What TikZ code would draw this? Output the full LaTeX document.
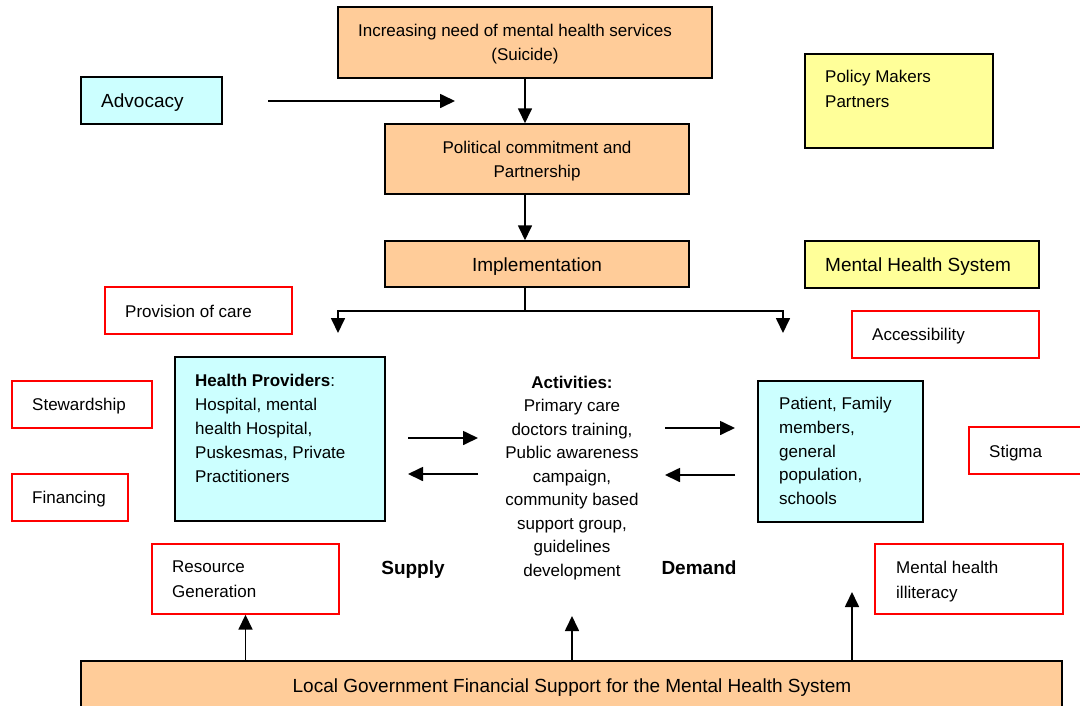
\documentclass[tikz,border=0pt]{standalone}
\usepackage{fontspec}
\setmainfont{Liberation Sans}
\usetikzlibrary{arrows.meta}
\definecolor{peach}{HTML}{FFCC99}
\definecolor{cyanbox}{HTML}{CCFFFF}
\definecolor{yellowbox}{HTML}{FFFF99}
\definecolor{redline}{HTML}{FF0000}
\tikzset{
  box/.style={draw=black, line width=1.5pt, inner sep=0pt, rectangle},
  peachbox/.style={box, fill=peach},
  cyanb/.style={box, fill=cyanbox},
  yellowb/.style={box, fill=yellowbox},
  redb/.style={draw=redline, line width=1.4pt, fill=white, inner sep=0pt, rectangle},
  txt/.style={inner sep=0pt, font=\fontsize{17}{24}\selectfont, align=left},
  bigtxt/.style={inner sep=0pt, font=\fontsize{19}{24}\selectfont},
  boldtxt/.style={inner sep=0pt, font=\fontsize{19}{24}\selectfont\bfseries},
  arr/.style={line width=1.7pt, -{Triangle[length=15pt,width=14pt]}},
  ln/.style={line width=1.7pt},
}
\begin{document}
\begin{tikzpicture}[x=1pt,y=-1pt]
\useasboundingbox (0,0) rectangle (1080,705);
% boxes
\node[peachbox, minimum width=374pt, minimum height=71pt] (need) at (525,42.5) {};
\node[peachbox, minimum width=304pt, minimum height=70pt] (political) at (537,159) {};
\node[peachbox, minimum width=304pt, minimum height=46pt] (impl) at (537,264) {};
\node[cyanb, minimum width=141pt, minimum height=47pt] (advocacy) at (151.5,100.5) {};
\node[yellowb, minimum width=188pt, minimum height=94pt] (policy) at (899,101) {};
\node[yellowb, minimum width=234pt, minimum height=47pt] (mhs) at (922,264.5) {};
\node[redb, minimum width=187pt, minimum height=47pt] (access) at (945.5,334.5) {};
\node[redb, minimum width=187pt, minimum height=47pt] (provision) at (198.5,310.5) {};
\node[redb, minimum width=140pt, minimum height=47pt] (steward) at (82,404.5) {};
\node[redb, minimum width=116pt, minimum height=47pt] (financing) at (70,497.5) {};
\node[cyanb, minimum width=210pt, minimum height=164pt] (providers) at (280,439) {};
\node[cyanb, minimum width=165pt, minimum height=141pt] (patient) at (840.5,451.5) {};
\node[redb, minimum width=126pt, minimum height=47pt] (stigma) at (1032,450.5) {};
\node[redb, minimum width=188pt, minimum height=70pt] (illit) at (969,579) {};
\node[redb, minimum width=187pt, minimum height=70pt] (resource) at (245.5,579) {};
\node[peachbox, minimum width=981pt, minimum height=59pt] (bottom) at (571.5,690.5) {};
% texts
\node[txt, align=center, anchor=north] (needt) at (515,23.9) {Increasing need of mental health services\\\hspace*{20pt}(Suicide)};
\node[txt, align=center, anchor=north] (politicalt) at (537,140.9) {Political commitment and\\Partnership};
\node[bigtxt, anchor=base] (implt) at (537,271.8) {Implementation};
\node[bigtxt, anchor=base west] (advocacyt) at (101,107.8) {Advocacy};
\node[txt, anchor=north west, font=\fontsize{17}{25}\selectfont] (policyt) at (825,69.9) {Policy Makers\\Partners};
\node[bigtxt, anchor=base west] (mhst) at (825,271.8) {Mental Health System};
\node[txt, anchor=base west] (accesst) at (872,340.1) {Accessibility};
\node[txt, anchor=base west] (provisiont) at (125,317.1) {Provision of care};
\node[txt, anchor=base west] (stewardt) at (32,410.1) {Stewardship};
\node[txt, anchor=base west] (financingt) at (32,503.1) {Financing};
\node[txt, anchor=north west] (providerst) at (195,373.9) {\textbf{Health Providers}:\\Hospital, mental\\health Hospital,\\Puskesmas, Private\\Practitioners};
\node[txt, align=center, anchor=north, font=\fontsize{17}{23.5}\selectfont] (activities) at (572,375.9) {\textbf{Activities:}\\Primary care\\doctors training,\\Public awareness\\campaign,\\community based\\support group,\\guidelines\\development};
\node[txt, anchor=north west, font=\fontsize{17}{23.8}\selectfont] (patientt) at (779,396.9) {Patient, Family\\members,\\general\\population,\\schools};
\node[txt, anchor=base west] (stigmat) at (989,457.1) {Stigma};
\node[txt, anchor=north west, font=\fontsize{17}{25}\selectfont] (illitt) at (896,560.9) {Mental health\\illiteracy};
\node[txt, anchor=north west, font=\fontsize{17}{25}\selectfont] (resourcet) at (172,560.9) {Resource\\Generation};
\node[boldtxt, anchor=base] (supply) at (413,574.8) {Supply};
\node[boldtxt, anchor=base] (demand) at (699,574.8) {Demand};
\node[bigtxt, anchor=base] (bottomt) at (572,692.8) {Local Government Financial Support for the Mental Health System};
% free-end coordinates
\coordinate (advA) at (268,101);
\coordinate (advB) at (455,101);
\coordinate (split) at (525,311);
\coordinate (lt) at (338,333);
\coordinate (rt) at (783,333);
\coordinate (s1a) at (408,438);
\coordinate (s1b) at (478,438);
\coordinate (s2a) at (478,474);
\coordinate (s2b) at (408,474);
\coordinate (d1a) at (665,428);
\coordinate (d1b) at (735,428);
\coordinate (d2a) at (735,475);
\coordinate (d2b) at (665,475);
\coordinate (midtip) at (572,616);
\coordinate (righttip) at (852,592);
% connectors
\draw[arr] (advA) -- (advB);
\draw[arr] (need.south) -- (need.south |- political.north);
\draw[arr] (need.south |- political.south) -- (need.south |- impl.north);
\draw[ln] (split |- impl.south) -- (split);
\draw[arr] (split) -| (lt);
\draw[arr] (split) -| (rt);
\draw[arr] (s1a) -- (s1b);
\draw[arr] (s2a) -- (s2b);
\draw[arr] (d1a) -- (d1b);
\draw[arr] (d2a) -- (d2b);
\draw[arr] (bottom.north -| resource.south) -- (resource.south);
\draw[arr] (bottom.north -| midtip) -- (midtip);
\draw[arr] (bottom.north -| righttip) -- (righttip);
\end{tikzpicture}
\end{document}
